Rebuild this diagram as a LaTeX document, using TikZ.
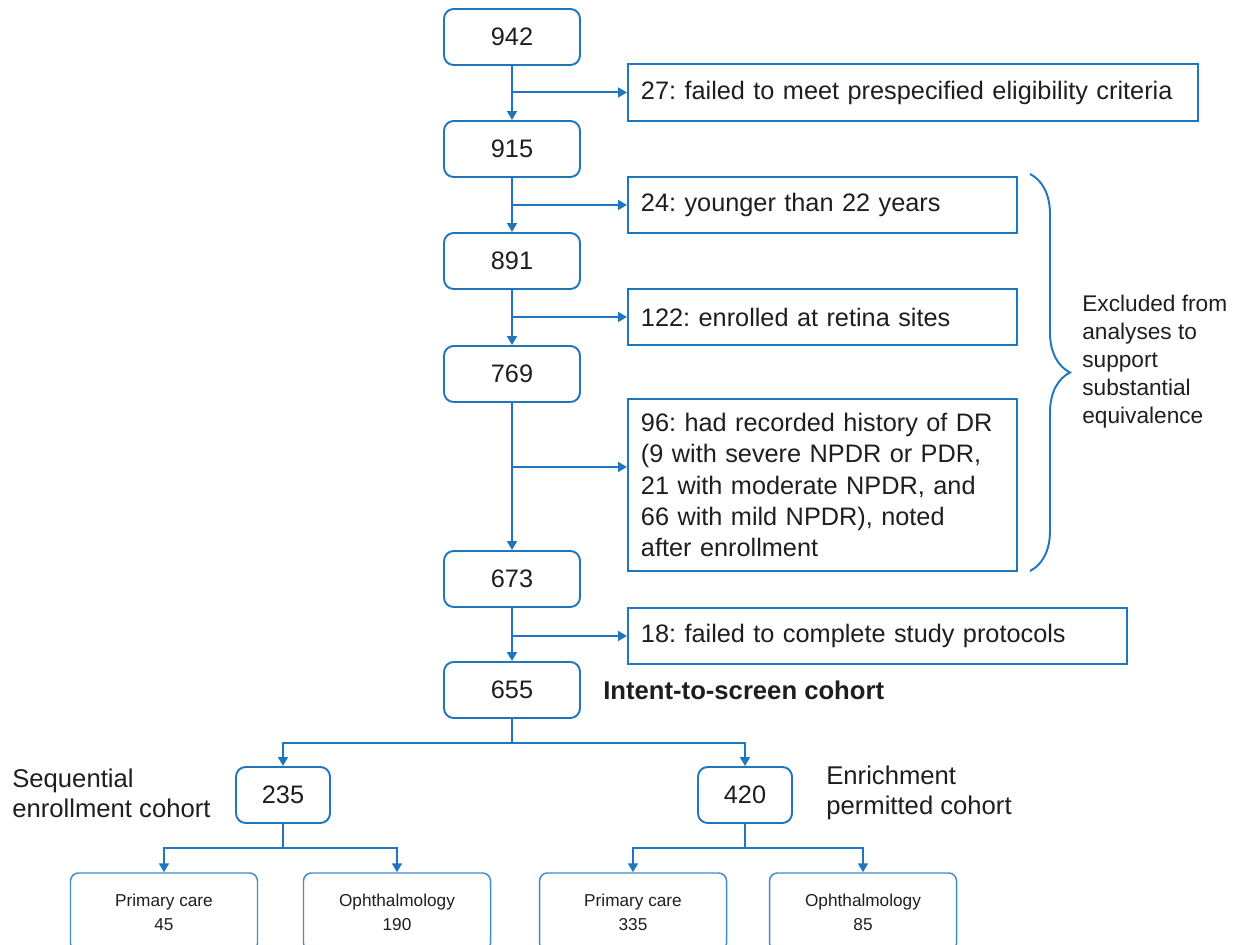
\documentclass[tikz,border=0pt]{standalone}
\usepackage{fontspec}
\setmainfont{Liberation Sans}
\usetikzlibrary{arrows.meta,decorations.pathreplacing}
\definecolor{blu}{HTML}{1F76BF}
\definecolor{ink}{HTML}{1E1E1E}
\newlength\PX
\setlength\PX{0.02cm}
\frenchspacing
\tikzset{
  numbox/.style={draw=blu, line width=1.1pt, rounded corners=5.5pt, minimum height=56*\PX, inner sep=0pt, text=ink, font=\fontsize{14.4}{17}\selectfont},
  sidebox/.style={draw=blu, line width=1.1pt, anchor=north west, inner xsep=13*\PX, inner ysep=0pt, align=left, text=ink, font=\fontsize{14.4}{17.9}\selectfont},
  leafbox/.style={draw=blu!85, line width=0.85pt, rounded corners=4.5pt, minimum height=78*\PX, minimum width=187*\PX, inner sep=0pt, align=center, text=ink, font=\fontsize{9.8}{13.6}\selectfont},
  lbl/.style={align=left, text=ink, inner sep=0pt, font=\fontsize{14.6}{17}\selectfont},
  arr/.style={draw=blu, line width=1.1pt, -{Triangle[width=5.5pt,length=5pt]}},
}
\begin{document}
\begin{tikzpicture}[x=0.02cm, y=-0.02cm]
\useasboundingbox (0,0) rectangle (1242,945);
\clip (0,0) rectangle (1242,945);

% main column
\node[numbox, minimum width=136*\PX] (n942) at (512,37) {942};
\node[numbox, minimum width=136*\PX] (n915) at (512,149) {915};
\node[numbox, minimum width=136*\PX] (n891) at (512,261) {891};
\node[numbox, minimum width=136*\PX] (n769) at (512,374) {769};
\node[numbox, minimum width=136*\PX] (n673) at (512,579) {673};
\node[numbox, minimum width=136*\PX] (n655) at (512,690) {655};

% exclusion boxes
\node[sidebox, minimum width=570*\PX, minimum height=57*\PX, text width=544*\PX] (e27) at (627,63) {27: failed to meet prespecified eligibility criteria};
\node[sidebox, minimum width=389*\PX, minimum height=56*\PX, text width=363*\PX] (e24) at (627,176) {24: younger than 22 years};
\node[sidebox, minimum width=389*\PX, minimum height=56*\PX, text width=363*\PX] (e122) at (627,288) {122: enrolled at retina sites};
\node[sidebox, minimum width=389*\PX, minimum height=172*\PX, text width=363*\PX] (e96) at (627,398) {96: had recorded history of DR\\(9 with severe NPDR or PDR,\\21 with moderate NPDR, and\\66 with mild NPDR), noted\\after enrollment};
\node[sidebox, minimum width=499*\PX, minimum height=56*\PX, text width=473*\PX] (e18) at (627,607) {18: failed to complete study protocols};

% main arrows
\draw[arr] (n942) -- (n915);
\draw[arr] (n915) -- (n891);
\draw[arr] (n891) -- (n769);
\draw[arr] (n769) -- (n673);
\draw[arr] (n673) -- (n655);

% side arrows
\draw[arr] (e27.west -| n942.south) -- (e27.west);
\draw[arr] (e24.west -| n915.south) -- (e24.west);
\draw[arr] (e122.west -| n891.south) -- (e122.west);
\coordinate (e96in) at ([yshift=0.36cm]e96.west);
\draw[arr] (e96in -| n769.south) -- (e96in);
\draw[arr] (e18.west -| n673.south) -- (e18.west);

% brace
\draw[blu, line width=1.1pt, decorate, decoration={brace, amplitude=0.8cm}] (1030,174) -- (1030,571);
\node[lbl, anchor=west, font=\fontsize{12.9}{15.9}\selectfont] (exlbl) at (1082,362) {Excluded from\\analyses to\\support\\substantial\\equivalence};

\node[lbl, anchor=west, font=\bfseries\fontsize{14.6}{17}\selectfont] (itslbl) at (603,690) {Intent-to-screen cohort};

% cohorts
\node[numbox, minimum width=94*\PX] (n235) at (283,795) {235};
\node[numbox, minimum width=94*\PX] (n420) at (745,795) {420};
\node[lbl, anchor=west] (seqlbl) at (12,793) {Sequential\\enrollment cohort};
\node[lbl, anchor=west] (enrlbl) at (826,793) {Enrichment\\permitted cohort};

\coordinate (b1) at (512,743);
\draw[arr] (n655.south) -- (b1) -| (n235);
\draw[arr] (b1) -| (n420);

% leaves
\node[leafbox] (pc1) at (164,912) {Primary care\\45};
\node[leafbox] (op1) at (397,912) {Ophthalmology\\190};
\node[leafbox] (pc2) at (633,912) {Primary care\\335};
\node[leafbox] (op2) at (863,912) {Ophthalmology\\85};

\coordinate (b2) at (283,848);
\draw[arr] (n235.south) -- (b2) -| (pc1);
\draw[arr] (b2) -| (op1);
\coordinate (b3) at (745,848);
\draw[arr] (n420.south) -- (b3) -| (pc2);
\draw[arr] (b3) -| (op2);
\end{tikzpicture}
\end{document}
